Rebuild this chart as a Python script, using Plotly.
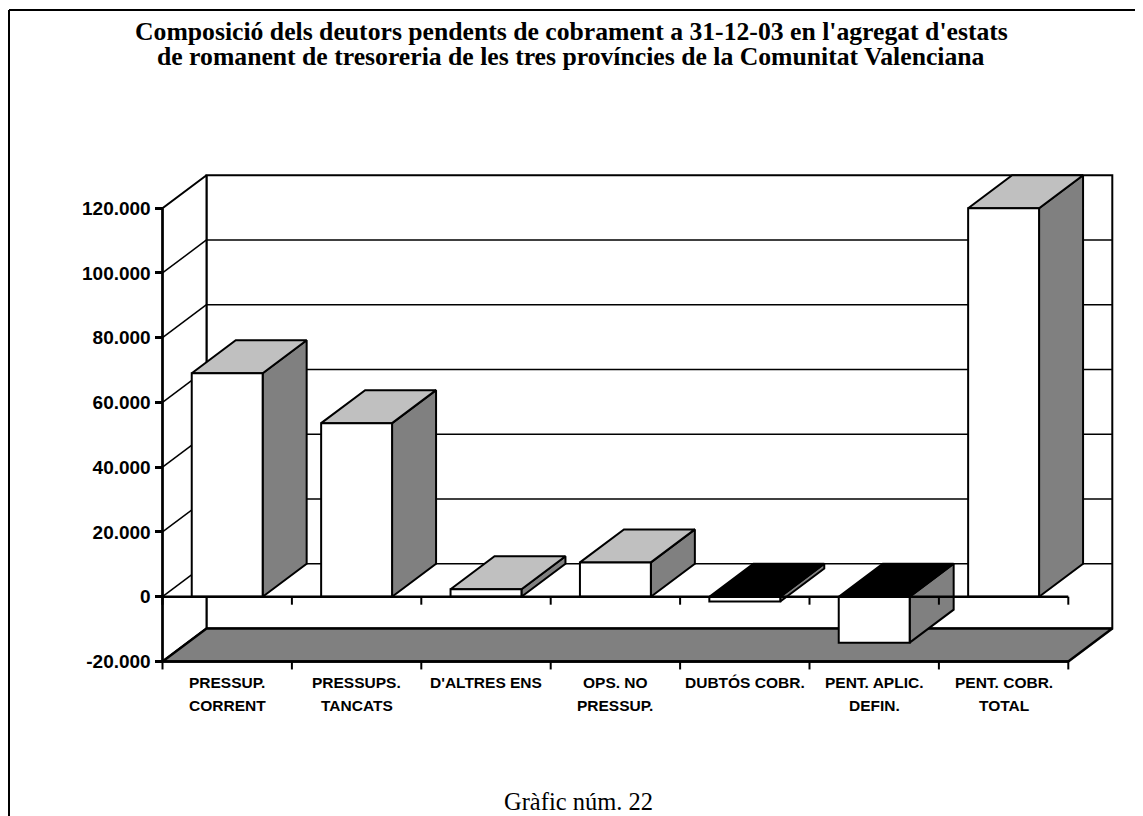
import plotly.graph_objects as go

# ---------------- data ----------------
label_line1 = ["PRESSUP.", "PRESSUPS.", "D'ALTRES ENS", "OPS. NO", "DUBTÓS COBR.", "PENT. APLIC.", "PENT. COBR."]
label_line2 = ["CORRENT", "TANCATS", "", "PRESSUP.", "", "DEFIN.", "TOTAL"]
values = [69000, 53600, 2300, 10600, -1500, -14200, 120000]
y_tickvals = [-20000, 0, 20000, 40000, 60000, 80000, 100000, 120000]
y_ticktext = ["-20.000", "0", "20.000", "40.000", "60.000", "80.000", "100.000", "120.000"]
title_lines = ["Composició dels deutors pendents de cobrament a 31-12-03 en l'agregat d'estats",
               "de romanent de tresoreria de les tres províncies de la Comunitat Valenciana"]
caption = "Gràfic núm. 22"

# ---------------- geometry / style ----------------
OFF = 8  # page body margin
W, H = 1143 - OFF, 816 - OFF
ML, MR, MT, MB = 100, 20, 150, 130
PX_PER_CAT = 129.4
PX_PER_UNIT = 64.75 / 20000.0
X0_PX, Y0_PX = 162.5 - OFF, 596.7 - OFF
DEPTH_X = 44.0 / PX_PER_CAT
DEPTH_Y = 33.0 / PX_PER_UNIT
GAP = 0.226
TICK_UNITS = 8.0 / PX_PER_UNIT
PW, PH = W - ML - MR, H - MT - MB
xr = [-(X0_PX - ML) / PX_PER_CAT, (W - MR - X0_PX) / PX_PER_CAT]
yr = [-(H - MB - Y0_PX) / PX_PER_UNIT, (Y0_PX - MT) / PX_PER_UNIT]

LIGHT, DARK, BLACK = "#c0c0c0", "#808080", "#000000"
n = len(values)
ymin, ymax = y_tickvals[0], y_tickvals[-1]

def px2paper(px, py):
    # px, py given in page pixels
    return (px - OFF - ML) / PW, (H - MB - (py - OFF)) / PH

fig = go.Figure()

def poly(xs, ys, fill, lw=2):
    fig.add_trace(go.Scatter(x=list(xs) + [xs[0]], y=list(ys) + [ys[0]], mode="lines",
                             fill="toself", fillcolor=fill,
                             line=dict(color=BLACK, width=lw), hoverinfo="skip", showlegend=False))

def segs(pairs, lw=1.5):
    xs, ys = [], []
    for (xa, ya), (xb, yb) in pairs:
        xs += [xa, xb, None]
        ys += [ya, yb, None]
    fig.add_trace(go.Scatter(x=xs, y=ys, mode="lines", line=dict(color=BLACK, width=lw),
                             hoverinfo="skip", showlegend=False))

# back wall
poly([DEPTH_X, n + DEPTH_X, n + DEPTH_X, DEPTH_X],
     [ymin + DEPTH_Y, ymin + DEPTH_Y, ymax + DEPTH_Y, ymax + DEPTH_Y], "white", 2)
# side wall
poly([0, DEPTH_X, DEPTH_X, 0], [ymin, ymin + DEPTH_Y, ymax + DEPTH_Y, ymax], "white", 2)
# gridlines on back and side walls
grid = []
for v in y_tickvals[1:-1]:
    grid.append(((DEPTH_X, v + DEPTH_Y), (n + DEPTH_X, v + DEPTH_Y)))
    grid.append(((0, v), (DEPTH_X, v + DEPTH_Y)))
segs(grid, 1.5)
# floor
poly([0, n, n + DEPTH_X, DEPTH_X], [ymin, ymin, ymin + DEPTH_Y, ymin + DEPTH_Y], DARK, 2.5)

# bars
for i, v in enumerate(values):
    x0, x1 = i + GAP, i + 1 - GAP
    yt = max(v, 0)
    poly([x1, x1, x1 + DEPTH_X, x1 + DEPTH_X], [0, v, v + DEPTH_Y, DEPTH_Y], DARK)
    poly([x0, x1, x1 + DEPTH_X, x0 + DEPTH_X], [yt, yt, yt + DEPTH_Y, yt + DEPTH_Y],
         LIGHT if v >= 0 else BLACK)
    poly([x0, x1, x1, x0], [0, 0, v, v], "white")

# front axes: value axis line, category line at 0 and floor front edge, with ticks
segs([((0, ymin), (0, ymax)), ((0, 0), (n, 0)), ((0, ymin), (n, ymin))], 2.5)
ticks = []
for k in range(n + 1):
    ticks.append(((k, 0), (k, -TICK_UNITS)))
    ticks.append(((k, ymin), (k, ymin - TICK_UNITS)))
segs(ticks, 2)

# category labels
lab_font = dict(family="Arial, Liberation Sans", size=15.5, color=BLACK, weight="bold")
ann = []
for i in range(n):
    ann.append(dict(x=i + 0.5, y=ymin, xref="x", yref="y", text=label_line1[i], showarrow=False,
                    yanchor="middle", yshift=-21, font=lab_font))
    if label_line2[i]:
        ann.append(dict(x=i + 0.5, y=ymin, xref="x", yref="y", text=label_line2[i], showarrow=False,
                        yanchor="middle", yshift=-44, font=lab_font))
# title
for t, py in zip(title_lines, [31, 57]):
    fx, fy = px2paper(571, py)
    ann.append(dict(x=fx, y=fy, xref="paper", yref="paper", text=t, showarrow=False,
                    xanchor="center", yanchor="middle",
                    font=dict(family="Liberation Serif, Times New Roman", size=25.7, color=BLACK,
                              weight="bold")))
fx, fy = px2paper(578, 801)
ann.append(dict(x=fx, y=fy, xref="paper", yref="paper", text=caption, showarrow=False,
                xanchor="center", yanchor="middle",
                font=dict(family="Liberation Serif, Times New Roman", size=24.5, color=BLACK)))

# outer frame (left and top edges)
bx0, by0 = px2paper(9, 816)
bx1, by1 = px2paper(1143, 10)
shapes = [dict(type="line", xref="paper", yref="paper", x0=bx0, y0=by0, x1=bx0, y1=by1,
               line=dict(color=BLACK, width=2)),
          dict(type="line", xref="paper", yref="paper", x0=bx0, y0=by1, x1=bx1, y1=by1,
               line=dict(color=BLACK, width=2))]

fig.update_layout(
    width=W, height=H, autosize=False,
    margin=dict(l=ML, r=MR, t=MT, b=MB, pad=0),
    plot_bgcolor="white", paper_bgcolor="white",
    showlegend=False, annotations=ann, shapes=shapes,
    xaxis=dict(range=xr, visible=False, fixedrange=True),
    yaxis=dict(range=yr, anchor="free", position=(0 - xr[0]) / (xr[1] - xr[0]),
               tickvals=y_tickvals, ticktext=y_ticktext, ticks="outside", ticklen=8,
               tickwidth=2.5, tickcolor=BLACK, showgrid=False, zeroline=False, showline=False,
               tickfont=dict(family="Arial, Liberation Sans", size=19, color=BLACK, weight="bold"),
               fixedrange=True),
)

fig.write_html("out.html")
